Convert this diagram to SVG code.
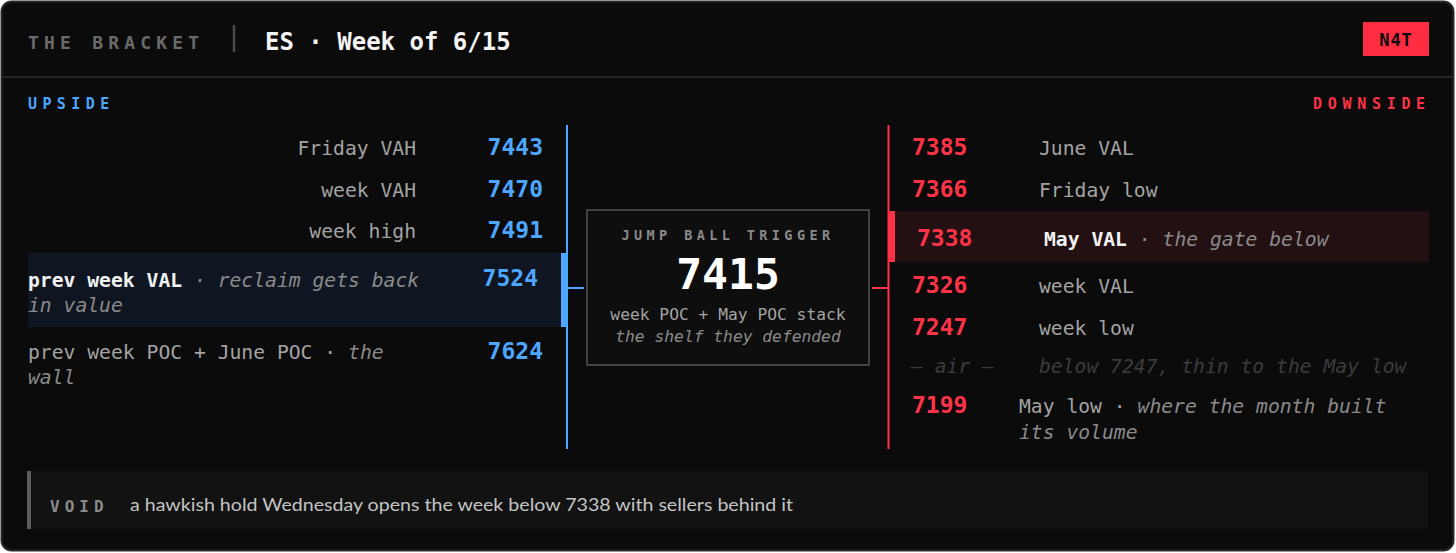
<svg xmlns="http://www.w3.org/2000/svg" width="1456" height="553" viewBox="0 0 1456 553">
<style>
.mono{font-family:"DejaVu Sans Mono","Liberation Mono",monospace}
.lab{font-family:"DejaVu Sans Mono","Liberation Mono",monospace;font-size:19.7px;fill:#a3a3a3}
.note{font-style:italic;fill:#8a8a8a}
.hl{font-weight:bold;fill:#f2f2f2}
.bn{font-family:"DejaVu Sans Mono","Liberation Mono",monospace;font-size:23px;font-weight:bold;fill:#4da6ff}
.rn{font-family:"DejaVu Sans Mono","Liberation Mono",monospace;font-size:23px;font-weight:bold;fill:#ff3347}
.dim{font-family:"DejaVu Sans Mono","Liberation Mono",monospace;font-size:19.7px;font-style:italic;fill:#3c3c3c}
</style>
<rect x="1.5" y="1.5" width="1452" height="549" rx="10" fill="#0b0b0b" stroke="#2a2a2a" stroke-width="2"/>
<g id="header">
<line x1="2" y1="77" x2="1454" y2="77" stroke="#262626" stroke-width="2"/>
<text x="28" y="49" class="mono" font-size="18" font-weight="bold" fill="#6a6a6a" letter-spacing="5.2">THE BRACKET</text>
<line x1="234" y1="25" x2="234" y2="52" stroke="#4a4a4a" stroke-width="2.5"/>
<text x="265" y="50" class="mono" font-size="24" font-weight="bold" fill="#f4f4f4">ES · Week of 6/15</text>
<rect x="1363" y="22" width="66" height="34" fill="#ff2d42"/>
<text x="1396" y="45.5" class="mono" font-size="17" font-weight="bold" fill="#0b0b0b" text-anchor="middle" letter-spacing="1">N4T</text>
<text x="28" y="109" class="mono" font-size="15" font-weight="bold" fill="#4da6ff" letter-spacing="5.4">UPSIDE</text>
<text x="1313" y="109" class="mono" font-size="15" font-weight="bold" fill="#ff3347" letter-spacing="5.7">DOWNSIDE</text>
</g>
<g id="connectors">
<line x1="567" y1="125" x2="567" y2="449" stroke="#4da6ff" stroke-width="2"/>
<line x1="888.5" y1="125" x2="888.5" y2="449" stroke="#ff3347" stroke-width="2"/>
<line x1="567" y1="288" x2="584" y2="288" stroke="#4da6ff" stroke-width="2"/>
<line x1="872" y1="288" x2="888" y2="288" stroke="#ff3347" stroke-width="2"/>
</g>
<g id="up-7443">
<text x="416" y="155" class="lab" text-anchor="end">Friday VAH</text>
<text x="543" y="155" class="bn" text-anchor="end">7443</text>
</g>
<g id="up-7470">
<text x="416" y="197" class="lab" text-anchor="end">week VAH</text>
<text x="543" y="197" class="bn" text-anchor="end">7470</text>
</g>
<g id="up-7491">
<text x="416" y="238" class="lab" text-anchor="end">week high</text>
<text x="543" y="238" class="bn" text-anchor="end">7491</text>
</g>
<g id="up-7524">
<rect x="28" y="253" width="539" height="74" fill="#0f1621"/>
<rect x="561" y="253" width="6" height="74" fill="#4da6ff"/>
<text x="28" y="287" class="lab"><tspan class="hl">prev week VAL</tspan><tspan class="note"> · reclaim gets back</tspan></text>
<text x="28" y="312" class="lab note">in value</text>
<text x="538" y="286" class="bn" font-size="24.5" text-anchor="end">7524</text>
</g>
<g id="up-7624">
<text x="28" y="359" class="lab">prev week POC + June POC · <tspan class="note">the</tspan></text>
<text x="28" y="384" class="lab note">wall</text>
<text x="543" y="359" class="bn" text-anchor="end">7624</text>
</g>
<g id="trigger">
<rect x="587" y="210" width="282" height="155" fill="#0e0e0e" stroke="#565656" stroke-width="1.5"/>
<text x="728" y="240" class="mono" font-size="13.5" font-weight="bold" fill="#8a8a8a" text-anchor="middle" letter-spacing="4.4">JUMP BALL TRIGGER</text>
<text x="728" y="289" class="mono" font-size="43" font-weight="bold" fill="#ffffff" text-anchor="middle">7415</text>
<text x="728" y="320" class="mono" font-size="16.3" fill="#a3a3a3" text-anchor="middle">week POC + May POC stack</text>
<text x="728" y="342" class="mono" font-size="16.3" font-style="italic" fill="#8a8a8a" text-anchor="middle">the shelf they defended</text>
</g>
<g id="down-7385">
<text x="912" y="155" class="rn">7385</text>
<text x="1039" y="155" class="lab">June VAL</text>
</g>
<g id="down-7366">
<text x="912" y="197" class="rn">7366</text>
<text x="1039" y="197" class="lab">Friday low</text>
</g>
<g id="down-7338">
<rect x="895" y="211" width="534" height="51" fill="#221012"/>
<rect x="888" y="211" width="7" height="51" fill="#ff3347"/>
<text x="917" y="246" class="rn" font-size="25">7338</text>
<text x="1044" y="246" class="lab"><tspan class="hl">May VAL</tspan><tspan class="note"> · the gate below</tspan></text>
</g>
<g id="down-7326">
<text x="912" y="293" class="rn">7326</text>
<text x="1039" y="293" class="lab">week VAL</text>
</g>
<g id="down-7247">
<text x="912" y="335" class="rn">7247</text>
<text x="1039" y="335" class="lab">week low</text>
</g>
<g id="down-air">
<text x="911" y="373" class="dim">— air —</text>
<text x="1039" y="373" class="dim">below 7247, thin to the May low</text>
</g>
<g id="down-7199">
<text x="912" y="413" class="rn">7199</text>
<text x="1019" y="413" class="lab">May low · <tspan class="note">where the month built</tspan></text>
<text x="1019" y="439" class="lab note">its volume</text>
</g>
<g id="void">
<rect x="31" y="471" width="1397" height="58" fill="#121212"/>
<rect x="27" y="471" width="4" height="58" fill="#5c5c5c"/>
<text x="50" y="512" class="mono" font-size="16" font-weight="bold" fill="#8a8a8a" letter-spacing="5">VOID</text>
<text x="130" y="511" font-family="Lato,'Open Sans',sans-serif" font-size="18" fill="#c4c4c4" textLength="663" lengthAdjust="spacingAndGlyphs">a hawkish hold Wednesday opens the week below 7338 with sellers behind it</text>
</g>
</svg>
